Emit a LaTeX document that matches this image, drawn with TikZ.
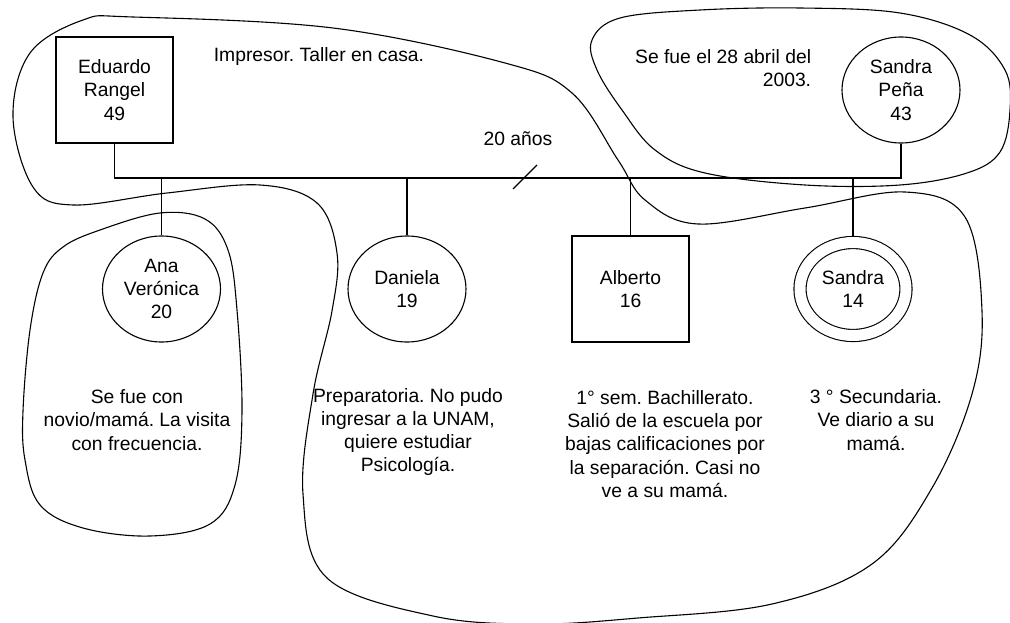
\documentclass[tikz,border=0pt]{standalone}
\usepackage{fontspec}
\setmainfont{Liberation Sans}
\usetikzlibrary{shapes.geometric}
\frenchspacing
\tikzset{
  varon/.style={draw, rectangle, minimum width=117pt, minimum height=106pt, align=center},
  mujer/.style={draw, ellipse, inner sep=0pt, minimum width=118pt, minimum height=106pt, align=center},
  hija/.style={mujer, double, double distance=11pt, minimum width=106pt, minimum height=93pt, outer sep=6.5pt},
  nota/.style={align=center},
}

\begin{document}
\begin{tikzpicture}[line width=1.1pt, font=\fontsize{19.3pt}{23.3pt}\selectfont]
    \pgfsetxvec{\pgfpoint{1pt}{0}}
    \pgfsetyvec{\pgfpoint{0}{-1pt}}
    \useasboundingbox (0,0) rectangle (1010,623);

    % padres
    \node[varon] (eduardo) at (114.5,90) {Eduardo\\Rangel\\49};
    \node[mujer] (penia) at (901,90) {Sandra\\Pe\~na\\43};
    \coordinate (bar) at (0,178);
    \draw (eduardo.south) -- (eduardo.south |- bar) -- (penia.south |- bar) -- (penia.south);
    \draw (513,189) -- (537,165);
    \node (anios) at (518,139) {20 a\~nos};

    % hijos
    \node[mujer] (ana) at (161.5,289) {Ana\\Ver\'onica\\20};
    \node[mujer] (daniela) at (407,289) {Daniela\\19};
    \node[varon] (alberto) at (630.5,289) {Alberto\\16};
    \node[hija] (sandra) at (853,289) {Sandra\\14};
    \foreach \n in {ana,daniela,alberto,sandra} {
      \draw (\n.north |- bar) -- (\n.north);
    }

    % notas
    \node[nota] (tEduardo) at (319,57) {Impresor. Taller en casa.};
    \node[nota, anchor=east] (tPenia) at (815,68) {\hfill Se fue el 28 abril del\\\hfill 2003.};
    \node[nota] (tAna) at (137,420) {Se fue con\\novio/mam\'a. La visita\\con frecuencia.};
    \node[nota] (tDaniela) at (408,432) {Preparatoria. No pudo\\ingresar a la UNAM,\\quiere estudiar\\Psicolog\'ia.};
    \node[nota] (tAlberto) at (665,444) {1\textdegree{} sem. Bachillerato.\\Sali\'o de la escuela por\\bajas calificaciones por\\la separaci\'on. Casi no\\ve a su mam\'a.};
    \node[nota] (tSandra) at (876,420) {3 \textdegree{} Secundaria.\\Ve diario a su\\mam\'a.};

    % hogares
    \draw plot[smooth cycle, tension=0.6] coordinates {
      (133,17) (333,28) (505,63) (572,93) (618,160) (645,200) (698,224)
      (805,208) (905,192) (965,217) (982,311) (972,394) (932,488) (872,564)
      (772,604) (638,618) (535,624) (433,616) (327,578) (303,494) (313,394)
      (332,311) (337,253) (317,203) (260,185) (167,193) (73,205) (33,187)
      (13,117) (30,53) (83,20)};
    \draw plot[smooth cycle, tension=0.6] coordinates {
      (620,18) (700,10) (800,8) (900,13) (970,35) (1005,70) (1010,110)
      (1000,152) (967,173) (900,185) (805,185) (705,173) (655,150)
      (622,110) (597,70) (592,40)};
    \draw plot[smooth cycle, tension=0.6] coordinates {
      (160,213) (205,219) (228,250) (237,310) (242,411) (235,485) (210,524)
      (150,536) (83,528) (40,505) (25,460) (23,411) (30,330) (43,273)
      (63,247) (100,230)};
  \end{tikzpicture}
\end{document}
